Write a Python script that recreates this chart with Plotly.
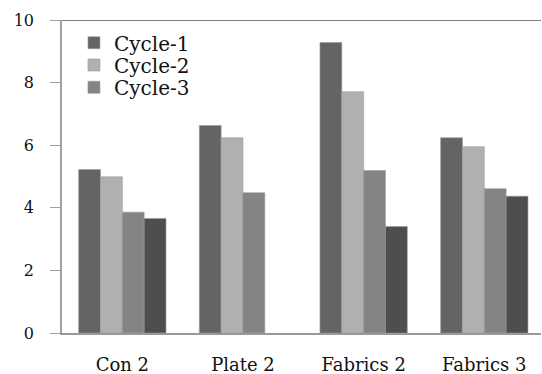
import plotly.graph_objects as go

categories = ["Con 2", "Plate 2", "Fabrics 2", "Fabrics 3"]
cycle1 = [5.22, 6.63, 9.28, 6.24]
cycle2 = [4.99, 6.24, 7.71, 5.95]
cycle3 = [3.86, 4.48, 5.19, 4.61]
cycle4 = [3.66, None, 3.40, 4.37]
series_names = ["Cycle-1", "Cycle-2", "Cycle-3", "Cycle-4"]
y_ticks = [0, 2, 4, 6, 8, 10]

colors = ["#646464", "#b0b0b0", "#848484", "#4e4e4e"]
legends = ["legend", "legend2", "legend3", None]
legend_rows_y = [0.9275, 0.8562, 0.785]
FONT = "DejaVu Serif"

fig = go.Figure()
for name, vals, col, lg in zip(series_names, [cycle1, cycle2, cycle3, cycle4], colors, legends):
    fig.add_trace(go.Bar(
        x=categories, y=vals, name=name,
        showlegend=lg is not None, legend=lg or "legend",
        marker=dict(color=col, line=dict(color="#9a9a9a", width=0.6)),
    ))

fig.add_shape(type="line", xref="paper", yref="y", x0=0, x1=1, y0=10, y1=10,
              line=dict(color="#555555", width=1.5))

leg_common = dict(x=0.025, xanchor="left", yanchor="middle",
                  font=dict(family=FONT, size=20, color="#111111"),
                  bgcolor="rgba(0,0,0,0)")

fig.update_layout(
    width=542, height=374,
    margin=dict(l=62, r=1, t=20, b=41),
    paper_bgcolor="white", plot_bgcolor="white",
    barmode="group", bargap=0.276, bargroupgap=0,
    font=dict(family=FONT, color="#111111"),
    showlegend=True,
    legend=dict(y=legend_rows_y[0], **leg_common),
    legend2=dict(y=legend_rows_y[1], **leg_common),
    legend3=dict(y=legend_rows_y[2], **leg_common),
    xaxis=dict(
        range=[-0.5, 3.47], showgrid=False, showline=True, linecolor="#999999", linewidth=1.5,
        ticks="", tickfont=dict(family=FONT, size=18), ticklabelstandoff=15,
        automargin=False,
    ),
    yaxis=dict(
        range=[0, 10], tickvals=y_ticks, showgrid=False, zeroline=False,
        showline=True, linecolor="#a0a0a0", linewidth=1.5,
        ticks="outside", ticklen=10, tickcolor="#a0a0a0", tickwidth=1,
        tickfont=dict(family=FONT, size=16), ticklabelstandoff=13,
        automargin=False,
    ),
)

fig.write_html("out.html")
